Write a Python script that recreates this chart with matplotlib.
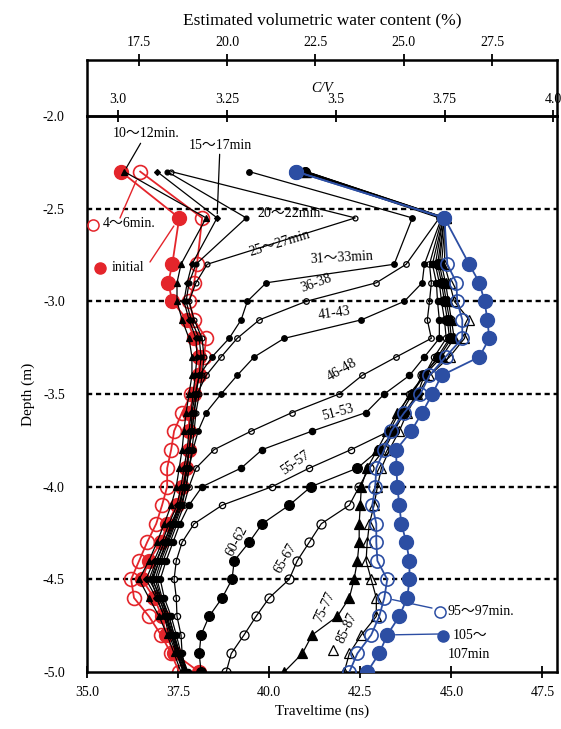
import matplotlib
matplotlib.use('Agg')
import matplotlib.pyplot as plt

plt.rcParams['font.family'] = ['Liberation Serif', 'Noto Sans CJK JP']
plt.rcParams['axes.unicode_minus'] = False

# depth of each measurement (m)
depth = [-2.3, -2.55, -2.8, -2.9, -3.0, -3.1, -3.2, -3.3, -3.4, -3.5, -3.6, -3.7, -3.8,
         -3.9, -4.0, -4.1, -4.2, -4.3, -4.4, -4.5, -4.6, -4.7, -4.8, -4.9, -5.0]

# traveltime (ns) for each time window
t_initial = [35.93, 37.53, 37.34, 37.23, 37.34, 37.75, 37.94, 38.08, 38.08, 37.94, 37.80, 37.80, 37.80,
             37.72, 37.61, 37.47, 37.20, 37.03, 36.70, 36.51, 36.84, 37.06, 37.17, 37.39, 38.08]
t_4_6 = [36.46, 38.16, 38.02, 37.94, 37.80, 37.94, 38.27, 38.21, 38.08, 37.86, 37.61, 37.39, 37.31,
         37.20, 37.20, 37.06, 36.90, 36.65, 36.43, 36.21, 36.29, 36.70, 37.03, 37.31, 37.53]
t_10_12 = [36.02, 38.27, 37.58, 37.47, 37.47, 37.61, 37.80, 37.88, 37.88, 37.80, 37.72, 37.66, 37.61,
           37.53, 37.45, 37.31, 37.12, 36.92, 36.70, 36.43, 36.70, 36.98, 37.20, 37.39, 37.58]
t_15_17 = [36.92, 38.57, 37.88, 37.75, 37.66, 37.80, 37.99, 38.02, 37.97, 37.91, 37.86, 37.80, 37.75,
           37.66, 37.58, 37.47, 37.25, 37.06, 36.84, 36.62, 36.90, 37.12, 37.25, 37.45, 37.64]
t_20_22 = [37.20, 39.37, 37.99, 37.80, 37.72, 37.86, 38.08, 38.13, 38.08, 37.99, 37.94, 37.88, 37.80,
           37.75, 37.66, 37.53, 37.34, 37.12, 36.90, 36.70, 36.98, 37.17, 37.31, 37.47, 37.66]
t_25_27 = [37.31, 42.36, 38.30, 37.99, 37.80, 37.94, 38.16, 38.21, 38.16, 38.08, 37.99, 37.94, 37.88,
           37.80, 37.72, 37.58, 37.39, 37.20, 36.98, 36.78, 37.03, 37.25, 37.39, 37.53, 37.72]
t_31_33 = [39.45, 43.93, 43.43, 39.92, 39.40, 39.23, 38.90, 38.43, 38.08, 37.97, 37.88, 37.86, 37.80,
           37.72, 37.64, 37.53, 37.31, 37.12, 36.92, 36.76, 36.92, 37.12, 37.31, 37.47, 37.66]
t_36_38 = [40.88, 44.67, 43.76, 42.94, 41.02, 39.73, 39.12, 38.68, 38.27, 38.02, 37.94, 37.88, 37.80,
           37.75, 37.66, 37.55, 37.36, 37.17, 36.98, 36.81, 36.98, 37.17, 37.34, 37.50, 37.69]
t_41_43 = [40.91, 44.73, 44.26, 44.20, 43.71, 42.53, 40.41, 39.59, 39.12, 38.68, 38.27, 38.05, 37.91,
           37.80, 37.72, 37.61, 37.42, 37.23, 37.03, 36.87, 37.03, 37.20, 37.36, 37.53, 37.72]
t_46_48 = [40.93, 44.75, 44.40, 44.45, 44.40, 44.34, 44.45, 43.49, 42.55, 41.92, 40.63, 39.51, 38.49,
           37.99, 37.80, 37.66, 37.47, 37.28, 37.09, 36.92, 37.06, 37.25, 37.39, 37.55, 37.75]
t_51_53 = [40.96, 44.78, 44.48, 44.59, 44.62, 44.67, 44.67, 44.26, 43.85, 43.16, 42.66, 41.18, 39.81,
           39.23, 38.16, 37.80, 37.55, 37.36, 37.17, 37.01, 37.12, 37.31, 37.45, 37.58, 37.77]
t_55_57 = [40.96, 44.78, 44.56, 44.67, 44.73, 44.81, 44.86, 44.53, 44.26, 43.85, 43.57, 43.30, 42.25,
           41.10, 40.08, 38.71, 37.94, 37.61, 37.45, 37.39, 37.45, 37.47, 37.58, 37.61, 37.72]
t_60_62 = [40.99, 44.81, 44.62, 44.73, 44.81, 44.89, 44.95, 44.62, 44.26, 44.07, 43.71, 43.43, 43.02,
           42.42, 41.15, 40.55, 39.81, 39.45, 39.04, 38.98, 38.71, 38.35, 38.13, 38.08, 38.13]
t_65_67 = [40.99, 44.81, 44.67, 44.78, 44.86, 44.95, 45.00, 44.67, 44.20, 43.93, 43.63, 43.43, 43.16,
           42.75, 42.47, 42.20, 41.43, 41.10, 40.77, 40.55, 40.00, 39.64, 39.31, 38.96, 38.82]
t_75_77 = [41.02, 44.84, 44.73, 44.84, 44.92, 45.00, 45.08, 44.73, 44.26, 43.90, 43.52, 43.24, 42.97,
           42.69, 42.53, 42.50, 42.47, 42.47, 42.42, 42.33, 42.20, 41.87, 41.18, 40.91, 40.41]
t_85_87 = [41.02, 44.84, 44.81, 44.95, 45.08, 45.49, 45.36, 44.95, 44.40, 44.07, 43.79, 43.57, 43.30,
           43.08, 42.97, 42.88, 42.75, 42.69, 42.66, 42.80, 42.94, 42.94, 42.53, 42.20, 42.06]
t_95_97 = [40.74, 44.81, 44.89, 45.14, 45.16, 45.30, 45.30, 44.84, 44.40, 44.15, 43.71, 43.35, 43.16,
           42.94, 42.91, 42.83, 42.94, 42.94, 42.97, 43.24, 43.16, 43.02, 42.80, 42.42, 42.20]
t_105_107 = [40.74, 44.81, 45.49, 45.77, 45.91, 45.99, 46.04, 45.77, 44.73, 44.48, 44.20, 43.90, 43.49,
             43.49, 43.52, 43.57, 43.63, 43.76, 43.85, 43.85, 43.79, 43.57, 43.24, 43.02, 42.69]

RED = '#e4252b'
BLUE = '#2c4ea3'

civ_ticks = [3.0, 3.25, 3.5, 3.75, 4.0]
civ_labels = ['3.0', '3.25', '3.5', '3.75', '4.0']
wc_ticks = [17.5, 20.0, 22.5, 25.0, 27.5]
tt_ticks = [35.0, 37.5, 40.0, 42.5, 45.0, 47.5]
depth_ticks = [-2.0, -2.5, -3.0, -3.5, -4.0, -4.5, -5.0]

fig = plt.figure(figsize=(5.61, 7.29), dpi=100)
ax = fig.add_axes([0.1551, 0.0782, 0.8378, 0.7627])
ax.set_xlim(35.0, 47.9)
ax.set_ylim(-5.0, -2.0)

# dashed reference lines
for d in depth_ticks[1:-1]:
    ax.axhline(d, color='k', lw=1.7, ls=(0, (2.2, 1.6)), zorder=1)

# red curves
ax.plot(t_4_6, depth, '-o', color=RED, mfc='none', mec=RED, ms=10, mew=1.2, lw=1.3, zorder=2)
ax.plot(t_initial, depth, '-o', color=RED, mfc=RED, mec=RED, ms=10, lw=1.3, zorder=2)

# black curves
black = [
    (t_10_12, '^', 4, 'k'), (t_15_17, 'D', 3, 'k'), (t_20_22, 'o', 3.5, 'k'),
    (t_25_27, 'o', 3.5, 'none'), (t_31_33, 'o', 4, 'k'), (t_36_38, 'o', 4, 'none'),
    (t_41_43, 'o', 4, 'k'), (t_46_48, 'o', 4, 'none'), (t_51_53, 'o', 4.5, 'k'),
    (t_55_57, 'o', 4.5, 'none'), (t_60_62, 'o', 7, 'k'), (t_65_67, 'o', 6.5, 'none'),
    (t_75_77, '^', 6.5, 'k'), (t_85_87, '^', 6.5, 'none'),
]
for vals, mk, ms, fc in black:
    ax.plot(vals, depth, '-', marker=mk, color='k', mfc=fc, mec='k', ms=ms, mew=0.9,
            lw=0.9, zorder=3)

# blue curves
ax.plot(t_95_97, depth, '-o', color=BLUE, mfc='none', mec=BLUE, ms=9.5, mew=1.2, lw=1.3, zorder=4)
ax.plot(t_105_107, depth, '-o', color=BLUE, mfc=BLUE, mec=BLUE, ms=10, lw=1.3, zorder=4)

# axes styling
for s in ['left', 'right', 'bottom', 'top']:
    ax.spines[s].set_linewidth(1.8)
ax.set_xticks(tt_ticks)
ax.set_xticklabels(['%.1f' % t for t in tt_ticks])
ax.tick_params(axis='x', direction='inout', length=8, width=1.3, labelsize=10, pad=6)
ax.set_yticks(depth_ticks)
ax.set_yticklabels(['%.1f' % d for d in depth_ticks])
ax.tick_params(axis='y', length=0, labelsize=10, pad=16)
ax.set_xlabel('Traveltime (ns)', fontsize=11, labelpad=4)
ax.set_ylabel('Depth (m)', fontsize=11, labelpad=6)

# C/V axis (proportional to traveltime)
sec = ax.secondary_xaxis('top', functions=(lambda t: t / 11.95, lambda c: c * 11.95))
sec.set_xticks(civ_ticks)
sec.set_xticklabels(civ_labels)
sec.tick_params(direction='inout', length=8, width=1.3, labelsize=10, pad=3)
sec.set_xlabel('C/V', fontsize=10, style='italic', labelpad=1)
sec.spines['top'].set_linewidth(1.8)

# upper box with estimated volumetric water content
axw = fig.add_axes([0.1551, 0.8409, 0.8378, 0.0768])
axw.set_xlim(16.03, 29.34)
axw.set_ylim(0, 1)
axw.patch.set_alpha(0)
axw.spines['bottom'].set_visible(False)
for s in ['left', 'right', 'top']:
    axw.spines[s].set_linewidth(1.8)
axw.set_yticks([])
axw.xaxis.tick_top()
axw.xaxis.set_label_position('top')
axw.set_xticks(wc_ticks)
axw.set_xticklabels(['%.1f' % w for w in wc_ticks])
axw.tick_params(axis='x', direction='inout', length=8, width=1.3, labelsize=10, pad=4)
axw.set_xlabel('Estimated volumetric water content (%)', fontsize=12.5, labelpad=8)

# curve labels
lab = dict(transform=ax.transAxes, fontsize=10, ha='center', va='center', zorder=6)
ax.text(0.434, 0.8255, '20～22min.', **lab)
ax.text(0.4106, 0.7716, '25～27min', rotation=17, **lab)
ax.text(0.5426, 0.7446, '31～33min', rotation=3, **lab)
ax.text(0.487, 0.700, '36-38', rotation=20, **lab)
ax.text(0.5255, 0.6457, '41-43', rotation=8, **lab)
ax.text(0.5426, 0.543, '46-48', rotation=30, **lab)
ax.text(0.534, 0.4676, '51-53', rotation=15, **lab)
ax.text(0.4426, 0.3759, '55-57', rotation=35, **lab)
ax.text(0.319, 0.2356, '60-62', rotation=62, **lab)
ax.text(0.421, 0.205, '65-67', rotation=60, **lab)
ax.text(0.506, 0.117, '75-77', rotation=65, **lab)
ax.text(0.553, 0.079, '85-87', rotation=65, **lab)
ax.plot([0.523], [0.0396], '^', transform=ax.transAxes, mfc='none', mec='k', ms=7, mew=0.9,
        clip_on=False, zorder=6)

# labels with leader lines
arrow_k = dict(arrowstyle='-', color='k', lw=0.9, shrinkA=0, shrinkB=3)
ax.annotate('10～12min.', xy=(t_10_12[0], depth[0]), xytext=(0.1255, 0.9676),
            textcoords='axes fraction', fontsize=10, ha='center', va='center', arrowprops=arrow_k)
ax.annotate('15～17min', xy=(t_15_17[1], depth[1]), xytext=(0.283, 0.9478),
            textcoords='axes fraction', fontsize=10, ha='center', va='center', arrowprops=arrow_k)

arrow_r = dict(arrowstyle='-', color=RED, lw=1.0, shrinkA=0, shrinkB=7)
ax.annotate('', xy=(t_4_6[0], depth[0]), xytext=(0.0702, 0.8165), textcoords='axes fraction',
            arrowprops=arrow_r)
ax.annotate('', xy=(t_initial[1], depth[1]), xytext=(0.134, 0.7374), textcoords='axes fraction',
            arrowprops=arrow_r)
ax.plot([0.0128], [0.804], 'o', transform=ax.transAxes, mfc='none', mec=RED, ms=8, mew=1.1,
        clip_on=False, zorder=6)
ax.text(0.034, 0.806, '4～6min.', transform=ax.transAxes, fontsize=10, ha='left', va='center')
ax.plot([0.0277], [0.7266], 'o', transform=ax.transAxes, color=RED, ms=8, clip_on=False, zorder=6)
ax.text(0.053, 0.728, 'initial', transform=ax.transAxes, fontsize=10, ha='left', va='center')

arrow_b = dict(arrowstyle='-', color=BLUE, lw=1.0, shrinkA=0, shrinkB=6)
ax.annotate('', xy=(t_95_97[20], depth[20]), xytext=(0.734, 0.115), textcoords='axes fraction',
            arrowprops=arrow_b)
ax.annotate('', xy=(t_105_107[22], depth[22]), xytext=(0.7468, 0.0683), textcoords='axes fraction',
            arrowprops=arrow_b)
ax.plot([0.751], [0.108], 'o', transform=ax.transAxes, mfc='none', mec=BLUE, ms=8, mew=1.1, zorder=6)
ax.text(0.768, 0.108, '95～97min.', transform=ax.transAxes, fontsize=10, ha='left', va='center')
ax.plot([0.757], [0.0647], 'o', transform=ax.transAxes, color=BLUE, ms=8, zorder=6)
ax.text(0.779, 0.0665, '105～', transform=ax.transAxes, fontsize=10, ha='left', va='center')
ax.text(0.768, 0.032, '107min', transform=ax.transAxes, fontsize=10, ha='left', va='center')

fig.savefig('out.png', dpi=100)
